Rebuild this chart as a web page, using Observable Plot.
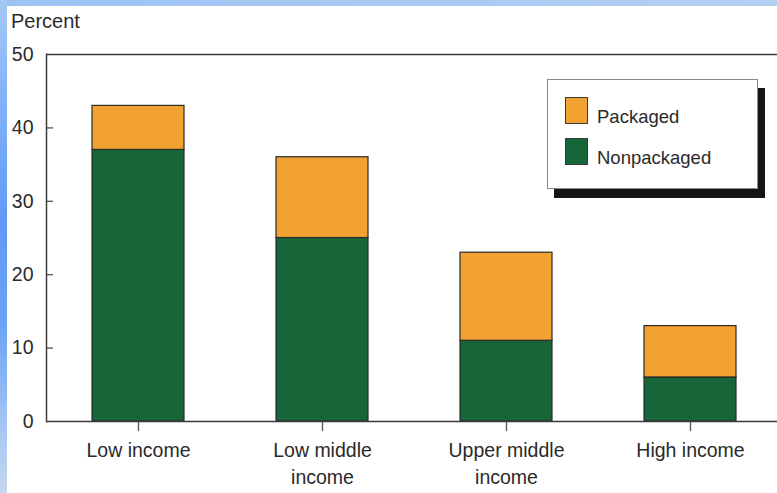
<!DOCTYPE html>
<html>
<head>
<meta charset="utf-8">
<script src="https://cdn.jsdelivr.net/npm/d3@7"></script>
<script src="https://cdn.jsdelivr.net/npm/@observablehq/plot@0.6"></script>
<style>
  html, body { margin: 0; padding: 0; background: #fff; }
  #wrap { position: relative; width: 777px; height: 493px; overflow: hidden; background: #fff;
          font-family: "Liberation Sans", Arial, sans-serif; color: #2a2a2a; }
  #chart { position: absolute; left: 0; top: 0; }
  #topstrip { position: absolute; left: 0; top: 0; width: 777px; height: 6px;
              background: linear-gradient(to right, #9cc2f4, #b4d0f2); }
  #leftstrip { position: absolute; left: 0; top: 0; width: 7px; height: 493px;
               background: linear-gradient(to bottom, #a6c8f4 0%, #84b2f8 20%, #5e9af6 45%, #6aa2f4 65%, #a8c8f2 88%, #c6d8f0 100%); }
  #ylabel { position: absolute; left: 11px; top: 9px; font-size: 20px; line-height: 24px; color: #2a2a2a; }
  #legend { position: absolute; left: 547px; top: 79px; width: 209px; height: 108px; background: #fff;
            border: 1px solid #8a8a8a; box-shadow: 7px 9px 0 #151515; }
  .item { position: absolute; left: 17px; display: flex; align-items: flex-end; font-size: 18.5px; color: #2a2a2a; }
  .item span { line-height: 1; margin-bottom: -2px; }
  .sw { width: 23px; height: 27px; border: 1px solid #3a3a3a; margin-right: 9px; box-sizing: border-box; }
</style>
</head>
<body>
<div id="wrap">
  <div id="chart"></div>
  <div id="ylabel"></div>
  <div id="legend"></div>
  <div id="topstrip"></div>
  <div id="leftstrip"></div>
</div>
<script>
const categories = ["Low income", "Low middle\nincome", "Upper middle\nincome", "High income"];
const seriesNames = ["Nonpackaged", "Packaged"];
const nonpackaged = [37, 25, 11, 6];
const packaged = [6, 11, 12, 7];
const yTicks = [0, 10, 20, 30, 40, 50];
const yLabel = "Percent";
const legendOrder = ["Packaged", "Nonpackaged"];
const colors = {Nonpackaged: "#16663a", Packaged: "#f2a230"};

const data = [];
categories.forEach((c, i) => {
  data.push({category: c, series: "Nonpackaged", value: nonpackaged[i]});
  data.push({category: c, series: "Packaged", value: packaged[i]});
});

const W = 777, ML = 46, MR = 0, TICK = 7;

const chart = Plot.plot({
  width: W,
  height: 493,
  marginLeft: ML,
  marginRight: MR,
  marginTop: 54,
  marginBottom: 72,
  style: {fontFamily: "'Liberation Sans', Arial, sans-serif", fontSize: "20px", color: "#2a2a2a", background: "transparent"},
  x: {domain: categories, range: [46, 782], paddingInner: 0.5, paddingOuter: 0.25, label: null},
  y: {domain: [0, 50], label: null},
  color: {domain: seriesNames, range: seriesNames.map(s => colors[s])},
  marks: [
    Plot.barY(data, {x: "category", y: "value", fill: "series", stroke: "#2b2b2b", strokeWidth: 1.2}),
    Plot.tickY(yTicks.filter(d => d > 0 && d < 50), {y: d => d, stroke: "#555", strokeWidth: 1.3, insetLeft: 1, insetRight: W - ML - MR - TICK}),
    Plot.ruleY([0, 50], {stroke: "#3a3a3a", strokeWidth: 1.5}),
    Plot.frame({anchor: "left", stroke: "#3a3a3a", strokeWidth: 1.5}),
    Plot.axisY({anchor: "left", ticks: yTicks, tickSize: 0, tickPadding: 13, fontSize: 19.5, label: null}),
    Plot.axisX({anchor: "bottom", tickSize: 10, tickPadding: 7, stroke: "#555", strokeWidth: 1.3, fontSize: 19.5, lineHeight: 1.35, label: null})
  ]
});
document.getElementById("chart").appendChild(chart);
document.getElementById("ylabel").textContent = yLabel;

const legend = document.getElementById("legend");
legendOrder.forEach((name, i) => {
  const item = document.createElement("div");
  item.className = "item";
  item.style.top = (17 + i * 41) + "px";
  const sw = document.createElement("div");
  sw.className = "sw";
  sw.style.background = colors[name];
  const t = document.createElement("span");
  t.textContent = name;
  item.appendChild(sw);
  item.appendChild(t);
  legend.appendChild(item);
});
</script>
</body>
</html>
